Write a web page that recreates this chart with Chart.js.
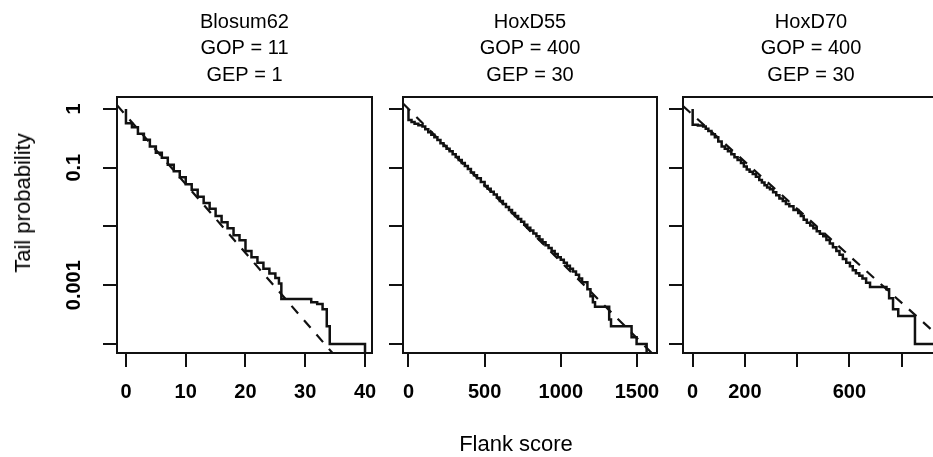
<!DOCTYPE html>
<html>
<head>
<meta charset="utf-8">
<script src="https://cdn.jsdelivr.net/npm/chart.js@4.4.1/dist/chart.umd.min.js"></script>
<style>
  html, body { margin: 0; padding: 0; background: #fff; }
  #wrap { position: relative; width: 933px; height: 457px; overflow: hidden; background: #fff; }
  #wrap canvas { position: absolute; top: 0; }
  .lab { position: absolute; font-family: "Liberation Sans", Arial, sans-serif; font-size: 22px; color: #000; white-space: nowrap; }
  #ylab { left: 23px; top: 203px; transform: translate(-50%, -50%) rotate(-90deg); }
  #xlab { left: 516px; top: 444px; transform: translate(-50%, -50%); }
</style>
</head>
<body>
<div id="wrap">
  <canvas id="c1" width="390" height="457" style="left:0px;width:390px;height:457px"></canvas>
  <canvas id="c2" width="290" height="457" style="left:385px;width:290px;height:457px"></canvas>
  <canvas id="c3" width="290" height="457" style="left:665px;width:290px;height:457px"></canvas>
  <div class="lab" id="ylab">Tail probability</div>
  <div class="lab" id="xlab">Flank score</div>
</div>
<script>
// shared y axis (tail probability, log scale)
var yTicks = [1, 0.1, 0.01, 0.001, 0.0001];
var yTickLabels = ['1', '0.1', '', '0.001', ''];

// Blosum62
var blosumTitle = ['Blosum62', 'GOP = 11', 'GEP = 1'];
var blosumScore = [0, 0, 1, 2, 3, 4, 5, 6, 7, 8, 9, 10, 11, 12, 13, 14, 15, 16, 17, 18, 19, 20, 21, 22, 23, 24, 25, 25.6, 26, 31, 32, 32.9, 33.6, 34.1, 40, 40];
var blosumTail = [1, 0.57, 0.49, 0.38, 0.30, 0.23, 0.18, 0.148, 0.112, 0.087, 0.069, 0.052, 0.042, 0.032, 0.025, 0.020, 0.015, 0.0118, 0.0093, 0.0071, 0.0058, 0.0038, 0.0030, 0.0024, 0.0019, 0.00158, 0.00132, 0.00107, 0.00058, 0.00051, 0.00048, 0.00039, 0.0002, 0.0001, 0.0001, 0.00005];
var blosumFitScore = [-1.5, 41.2];
var blosumFitTail = [1.16, 0.0000117];
var blosumTicks = [0, 10, 20, 30, 40];
var blosumTickLabels = ['0', '10', '20', '30', '40'];

// HoxD55
var h55Title = ['HoxD55', 'GOP = 400', 'GEP = 30'];
var h55Score = [0, 0, 20, 40, 65, 92, 110, 130, 150, 170, 190, 210, 230, 250, 270, 290, 310, 330, 350, 370, 390, 410, 430, 450, 475, 500, 520, 540, 560, 580, 600, 620, 640, 660, 680, 700, 720, 740, 760, 780, 800, 820, 840, 860, 880, 900, 920, 940, 960, 980, 1000, 1020, 1040, 1060, 1080, 1100, 1120, 1140, 1175, 1195, 1211, 1225, 1318, 1330, 1465, 1498, 1564];
var h55Tail = [1, 0.65, 0.60, 0.56, 0.53, 0.50, 0.45, 0.40, 0.365, 0.33, 0.295, 0.26, 0.235, 0.21, 0.19, 0.17, 0.152, 0.135, 0.12, 0.107, 0.095, 0.083, 0.074, 0.066, 0.057, 0.049, 0.044, 0.039, 0.035, 0.031, 0.027, 0.024, 0.0215, 0.019, 0.017, 0.015, 0.0134, 0.012, 0.0107, 0.0095, 0.0085, 0.0076, 0.0068, 0.0060, 0.0054, 0.0048, 0.0043, 0.0038, 0.0034, 0.0030, 0.0027, 0.0024, 0.00215, 0.0019, 0.0017, 0.0015, 0.0013, 0.00112, 0.00085, 0.00065, 0.00051, 0.00043, 0.00026, 0.0002, 0.00013, 0.0001, 0.00005];
var h55FitScore = [-36, 1632];
var h55FitTail = [1.24, 0.000057];
var h55Ticks = [0, 500, 1000, 1500];
var h55TickLabels = ['0', '500', '1000', '1500'];

// HoxD70
var h70Title = ['HoxD70', 'GOP = 400', 'GEP = 30'];
var h70Score = [0, 0, 20, 40, 50, 60, 72, 85, 98, 111, 123, 135, 148, 160, 172, 185, 196, 207, 218, 230, 242, 255, 265, 275, 285, 296, 308, 320, 332, 345, 357, 370, 386, 404, 414, 425, 437, 450, 462, 475, 487, 500, 512, 525, 537, 550, 562, 575, 588, 602, 613, 625, 638, 650, 664, 679, 742, 752, 767, 787, 851, 945];
var h70Tail = [1, 0.54, 0.52, 0.50, 0.46, 0.42, 0.37, 0.33, 0.28, 0.23, 0.21, 0.19, 0.17, 0.15, 0.135, 0.12, 0.105, 0.093, 0.085, 0.078, 0.070, 0.062, 0.056, 0.050, 0.046, 0.043, 0.038, 0.034, 0.030, 0.027, 0.024, 0.022, 0.019, 0.017, 0.015, 0.013, 0.0116, 0.0104, 0.0093, 0.0083, 0.0075, 0.0068, 0.0059, 0.0051, 0.0044, 0.0038, 0.0033, 0.0028, 0.0024, 0.0021, 0.0018, 0.0016, 0.00145, 0.0013, 0.0011, 0.00093, 0.00085, 0.0006, 0.00039, 0.0003, 0.0001, 0.0001];
var h70FitScore = [-37, 943];
var h70FitTail = [1.12, 0.000134];
var h70Ticks = [0, 200, 400, 600, 800];
var h70TickLabels = ['0', '200', '', '600', ''];

var FONT = '"Liberation Sans", Arial, sans-serif';

function pts(xs, ps) {
  return xs.map(function(x, i) { return {x: x, y: ps[i]}; });
}

// frame round the plot region
var boxPlugin = {
  id: 'box',
  afterDatasetsDraw: function(chart) {
    var a = chart.chartArea, ctx = chart.ctx;
    ctx.save();
    ctx.lineWidth = 2;
    ctx.strokeStyle = '#111';
    ctx.strokeRect(a.left, a.top, a.right - a.left, a.bottom - a.top);
    ctx.restore();
  }
};

function makePanel(id, title, xs, ps, fitX, fitP, xMin, xMax, xTicks, xLabels, yWidth, padRight, showY) {
  var ctx = document.getElementById(id).getContext('2d');
  return new Chart(ctx, {
    type: 'line',
    data: {
      datasets: [{
        data: pts(xs, ps),
        stepped: true,
        borderColor: '#111',
        borderWidth: 2.5,
        pointRadius: 0,
        fill: false
      }, {
        data: pts(fitX, fitP),
        borderColor: '#111',
        borderWidth: 2.2,
        borderDash: [10, 9],
        pointRadius: 0,
        fill: false
      }]
    },
    options: {
      responsive: false,
      animation: false,
      events: [],
      layout: { padding: { left: 0, right: padRight, top: 9, bottom: 0 } },
      plugins: {
        legend: { display: false },
        tooltip: { enabled: false },
        title: {
          display: true,
          text: title,
          fullSize: false,
          color: '#000',
          font: { family: FONT, size: 20, weight: 'normal', lineHeight: '26.5px' },
          padding: { top: 0, bottom: 8.5 }
        }
      },
      scales: {
        x: {
          type: 'linear',
          min: xMin,
          max: xMax,
          afterBuildTicks: function(s) { s.ticks = xTicks.map(function(v) { return {value: v}; }); },
          afterFit: function(s) { s.height = 104; },
          ticks: {
            autoSkip: false,
            maxRotation: 0,
            padding: 13,
            color: '#000',
            font: { family: FONT, size: 20, weight: 'bold' },
            callback: function(v, i) { return xLabels[i]; }
          },
          grid: { display: true, drawOnChartArea: false, drawTicks: true, tickLength: 14, color: '#111', lineWidth: 2 },
          border: { display: false }
        },
        y: {
          type: 'logarithmic',
          min: 0.0000732,
          max: 1.597,
          afterBuildTicks: function(s) { s.ticks = yTicks.map(function(v) { return {value: v}; }); },
          afterFit: function(s) { s.width = yWidth; },
          ticks: {
            display: showY,
            autoSkip: false,
            minRotation: 90,
            maxRotation: 90,
            crossAlign: 'center',
            padding: 3,
            color: '#000',
            font: { family: FONT, size: 20, weight: 'bold' },
            callback: function(v, i) { return yTickLabels[i]; }
          },
          grid: { display: true, drawOnChartArea: false, drawTicks: true, tickLength: 14, color: '#111', lineWidth: 2 },
          border: { display: false }
        }
      }
    },
    plugins: [boxPlugin]
  });
}

makePanel('c1', blosumTitle, blosumScore, blosumTail, blosumFitScore, blosumFitTail,
  -1.5, 41.17, blosumTicks, blosumTickLabels, 117, 18, true);
makePanel('c2', h55Title, h55Score, h55Tail, h55FitScore, h55FitTail,
  -36, 1632, h55Ticks, h55TickLabels, 18, 18, false);
makePanel('c3', h70Title, h70Score, h70Tail, h70FitScore, h70FitTail,
  -37, 943, h70Ticks, h70TickLabels, 18, 16, false);
</script>
</body>
</html>
